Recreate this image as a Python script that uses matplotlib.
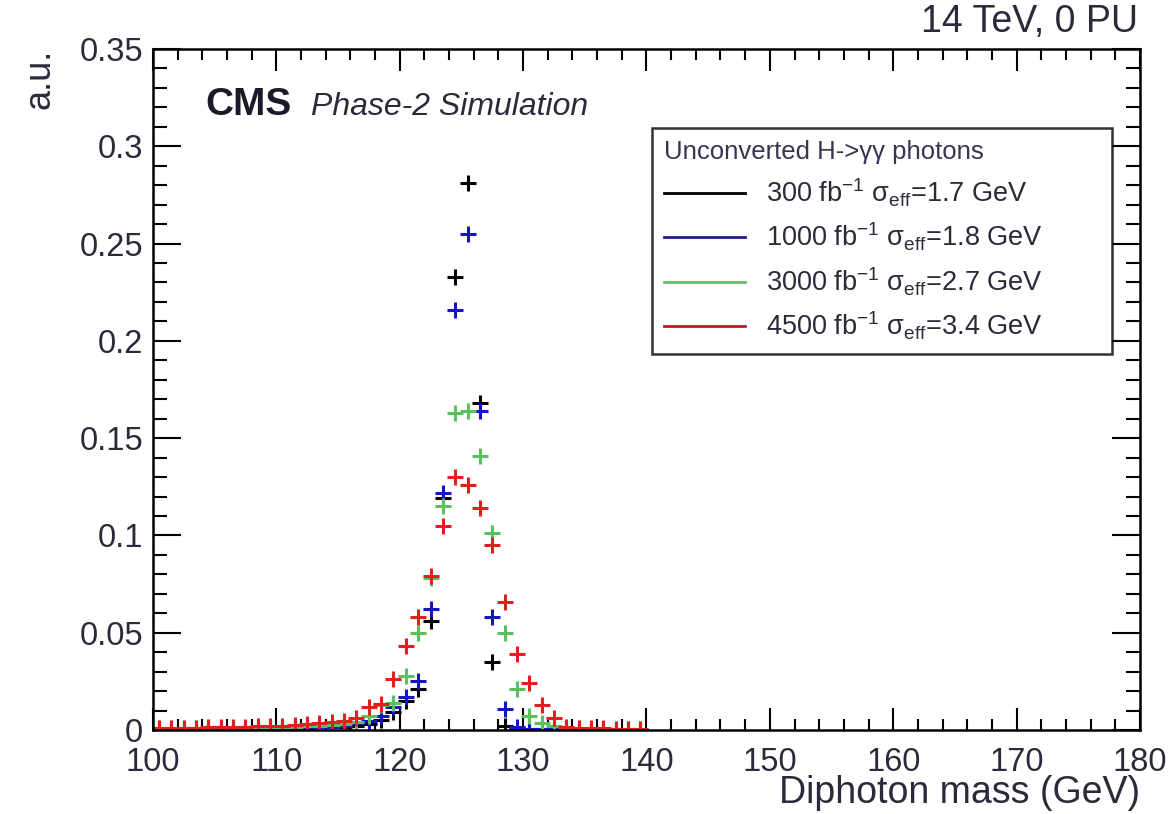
import numpy as np
import matplotlib
matplotlib.use("Agg")
import matplotlib.pyplot as plt
from matplotlib.lines import Line2D
from matplotlib.ticker import MultipleLocator

plt.rcParams['font.family'] = ['Liberation Sans', 'DejaVu Sans']
plt.rcParams['mathtext.fontset'] = 'custom'
plt.rcParams['mathtext.rm'] = 'Liberation Sans'
plt.rcParams['mathtext.it'] = 'Liberation Sans'

# bin centres (1 GeV bins), 100.5 ... 139.5
mass = np.arange(100.5, 140.0, 1.0)

# normalised diphoton mass distributions
lumi_300 = [0.0006, 0.0006, 0.0006, 0.0007, 0.0007, 0.0008, 0.0008, 0.0009, 0.0009, 0.0010,
            0.0010, 0.0011, 0.0012, 0.0013, 0.0014, 0.0016, 0.0020, 0.0030, 0.0050, 0.0090,
            0.0150, 0.0210, 0.0560, 0.1190, 0.2330, 0.2810, 0.1680, 0.0350, 0.0020, 0.0010,
            0.0005, 0.0004, 0.0003, 0.0003, 0.0002, 0.0002, 0.0002, 0.0001, 0.0001, 0.0001]
lumi_1000 = [0.0006, 0.0006, 0.0007, 0.0007, 0.0008, 0.0008, 0.0009, 0.0009, 0.0010, 0.0010,
             0.0011, 0.0012, 0.0013, 0.0014, 0.0016, 0.0020, 0.0035, 0.0045, 0.0070, 0.0120,
             0.0170, 0.0250, 0.0620, 0.1220, 0.2160, 0.2550, 0.1640, 0.0580, 0.0110, 0.0015,
             0.0006, 0.0004, 0.0003, 0.0003, 0.0002, 0.0002, 0.0002, 0.0001, 0.0001, 0.0001]
lumi_3000 = [0.0008, 0.0008, 0.0009, 0.0009, 0.0010, 0.0010, 0.0011, 0.0012, 0.0013, 0.0014,
             0.0015, 0.0016, 0.0018, 0.0020, 0.0025, 0.0030, 0.0040, 0.0070, 0.0130, 0.0140,
             0.0280, 0.0500, 0.0780, 0.1150, 0.1630, 0.1640, 0.1410, 0.1010, 0.0500, 0.0210,
             0.0070, 0.0035, 0.0020, 0.0012, 0.0008, 0.0006, 0.0005, 0.0004, 0.0004, 0.0004]
lumi_4500 = [0.0010, 0.0010, 0.0012, 0.0012, 0.0013, 0.0015, 0.0015, 0.0017, 0.0020, 0.0020,
             0.0022, 0.0025, 0.0030, 0.0035, 0.0040, 0.0045, 0.0060, 0.0120, 0.0135, 0.0260,
             0.0430, 0.0580, 0.0790, 0.1050, 0.1300, 0.1260, 0.1140, 0.0950, 0.0660, 0.0390,
             0.0240, 0.0130, 0.0060, 0.0015, 0.0012, 0.0010, 0.0008, 0.0006, 0.0004, 0.0003]

series = [
    (lumi_300, '#000000', '#000000', '300 fb$^{-1}$ \u03c3$_{eff}$=1.7 GeV'),
    (lumi_1000, '#1414c8', '#1c1c8c', '1000 fb$^{-1}$ \u03c3$_{eff}$=1.8 GeV'),
    (lumi_3000, '#5cc05c', '#66bb66', '3000 fb$^{-1}$ \u03c3$_{eff}$=2.7 GeV'),
    (lumi_4500, '#e41e1e', '#b82020', '4500 fb$^{-1}$ \u03c3$_{eff}$=3.4 GeV'),
]

txt = '#2a2a3a'

fig = plt.figure(figsize=(11.76, 8.14), dpi=100)
ax = fig.add_axes([0.130, 0.1032, 0.8394, 0.8366])

for vals, col, _, _ in series:
    ax.plot(mass, vals, linestyle='none', marker='+', markersize=12,
            markeredgewidth=2.2, color=col)

ax.set_xlim(100, 180)
ax.set_ylim(0, 0.35)
ax.xaxis.set_major_locator(MultipleLocator(10))
ax.xaxis.set_minor_locator(MultipleLocator(2))
ax.yaxis.set_major_locator(MultipleLocator(0.05))
ax.yaxis.set_minor_locator(MultipleLocator(0.01))
ax.set_yticks([0, 0.05, 0.1, 0.15, 0.2, 0.25, 0.3, 0.35])
ax.set_yticklabels(['0', '0.05', '0.1', '0.15', '0.2', '0.25', '0.3', '0.35'])

ax.tick_params(which='both', direction='in', top=True, right=True, width=1.5,
               labelsize=23.5, labelcolor=txt)
ax.tick_params(axis='x', which='major', length=16, pad=12)
ax.tick_params(axis='x', which='minor', length=8)
ax.tick_params(axis='y', which='major', length=20, pad=7)
ax.tick_params(axis='y', which='minor', length=10)
for sp in ax.spines.values():
    sp.set_linewidth(1.8)

ax.set_xlabel('Diphoton mass (GeV)', fontsize=27, color=txt, loc='right', labelpad=-2)
ax.set_ylabel('a.u.', fontsize=26, color=txt, loc='top', labelpad=16)

ax.text(0.053, 0.903, 'CMS', transform=ax.transAxes, fontsize=28, fontweight='bold',
        color='#1a1a2a', va='baseline')
ax.text(0.160, 0.903, 'Phase-2 Simulation', transform=ax.transAxes, fontsize=23,
        fontstyle='italic', color='#2a2a3a', va='baseline')
fig.text(0.968, 0.961, '14 TeV, 0 PU', fontsize=27, color=txt, ha='right', va='baseline')

handles = [Line2D([], [], color=lc, linewidth=2.0, label=lab) for _, _, lc, lab in series]
leg = ax.legend(handles=handles, title='Unconverted H->\u03b3\u03b3 photons',
                loc='upper left', bbox_to_anchor=(0.5056, 0.561, 0.466, 0.323),
                mode='expand', fontsize=19.5, title_fontsize=18.5, frameon=True,
                fancybox=False, edgecolor='black', handlelength=3.0, handletextpad=0.75,
                labelspacing=0.45, borderpad=0.45, borderaxespad=0, alignment='left')
leg.get_frame().set_linewidth(1.8)
leg.get_title().set_color('#3a3450')
for t in leg.get_texts():
    t.set_color(txt)

fig.savefig('out.png', dpi=100)
